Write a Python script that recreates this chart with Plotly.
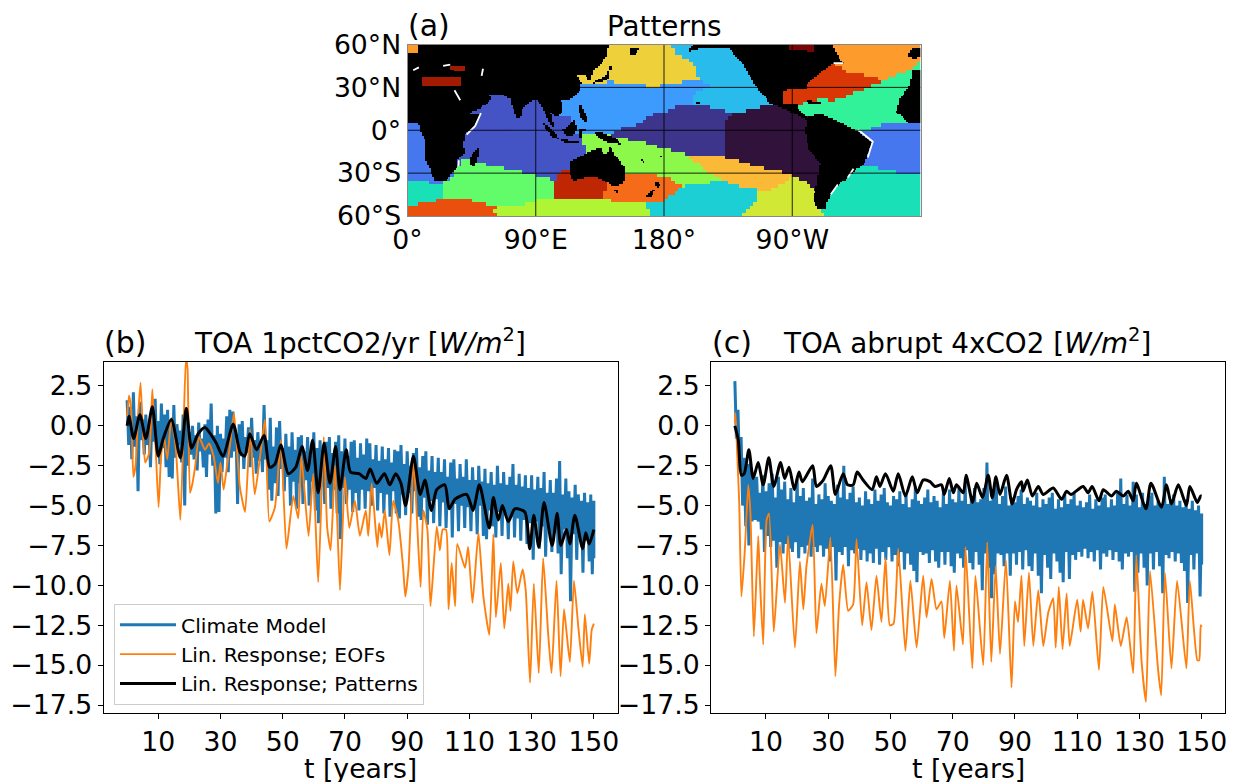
import plotly.graph_objects as go

# ---------------- time series: panel (b) ----------------
b_model_hi = [1.6,1.2,2.1,0.6,1.5,0.4,0.7,-0.1,1.0,1.7,0.3,1.4,0.7,1.0,0.2,1.3,0.1,-0.3,0.7,1.0,-0.4,
 0.0,-0.6,0.2,-0.8,0.1,0.4,1.4,-0.6,0.0,-0.5,-0.8,0.6,1.0,0.9,-0.5,0.1,0.3,-0.7,-0.1,0.5,
 -0.9,-0.4,-1.0,1.3,-0.9,0.5,-1.3,-0.1,0.3,-1.4,-0.5,-1.3,-0.4,-1.5,-0.7,-0.6,-1.6,-0.7,-1.7,-0.4,
 -1.4,-0.9,-1.8,-1.0,-0.7,-1.7,-1.0,-0.6,-1.6,-0.8,-1.9,-1.0,-0.9,-2.0,-1.1,-1.8,-0.8,-1.1,-2.1,-1.2,
 -2.2,-1.3,-2.1,-1.4,-2.3,-1.5,-1.6,-1.2,-2.4,-1.6,-2.5,-1.7,-1.4,-2.6,-1.9,-1.6,-2.8,-1.9,-2.9,-2.0,
 -2.9,-2.1,-3.2,-2.3,-2.1,-3.3,-2.4,-3.2,-2.1,-3.4,-2.6,-3.4,-2.5,-3.5,-2.7,-3.6,-2.9,-3.7,-2.5,-3.6,
 -2.9,-3.7,-3.2,-2.4,-3.7,-3.0,-3.8,-3.1,-3.9,-3.1,-4.0,-3.2,-3.9,-2.9,-4.2,-3.4,-4.2,-3.3,-2.2,-4.3,
 -3.3,-4.1,-4.5,-3.7,-4.3,-4.7,-4.2,-4.8,-4.3,-4.7]
b_model_lo = [-1.2,-2.1,-1.3,-4.1,-0.9,-1.8,-1.2,-2.6,-1.0,-1.8,-2.4,-1.4,-2.6,-3.2,-3.3,-2.0,-1.2,-2.3,-5.0,-2.5,-1.8,
 -2.1,-2.8,-1.6,-2.6,-3.2,-1.8,-2.5,-5.5,-5.4,-2.9,-2.0,-2.9,-2.0,-1.6,-4.9,-1.9,-2.7,-1.7,-2.6,-2.0,
 -3.0,-2.2,-2.9,-2.1,-4.0,-4.7,-3.6,-4.4,-2.7,-4.1,-3.2,-5.0,-3.5,-5.2,-3.6,-4.9,-3.4,-5.0,-3.5,-5.3,
 -6.1,-3.8,-4.9,-3.9,-5.2,-4.0,-5.5,-7.1,-3.9,-4.9,-4.0,-5.4,-4.2,-5.3,-4.0,-5.2,-4.1,-5.0,-3.9,-5.3,
 -4.2,-5.5,-4.3,-5.7,-4.1,-5.5,-5.8,-4.3,-5.6,-4.2,-5.5,-4.1,-5.7,-5.9,-4.5,-6.2,-4.7,-6.1,-4.6,-6.3,
 -4.8,-6.4,-5.0,-7.0,-4.9,-6.6,-5.0,-6.4,-5.1,-6.6,-5.2,-6.8,-5.0,-6.9,-7.1,-5.3,-6.3,-7.0,-5.4,-6.9,
 -5.5,-7.1,-5.7,-7.0,-5.8,-7.2,-5.9,-7.4,-6.1,-8.4,-6.0,-7.7,-6.3,-8.2,-6.4,-7.9,-6.5,-8.0,-9.3,-6.5,
 -8.3,-11.0,-6.8,-8.4,-7.0,-9.2,-7.2,-8.5,-9.3,-8.3]
b_eof_t = [0,0.6,1.3,2,2.7,3.5,4.3,5.1,5.8,7.1,8.1,9.1,10.1,10.9,11.8,12.9,14.2,15.6,17.1,18,18.9,19.4,20.2,21,21.9,23.1,25,26.3,27.8,29.2,30,31,32.1,33,34.3,35.3,36.2,37.9,39.5,41,42.6,44.3,45.7,47.5,49.4,51.2,53.4,55,56,58.3,59.8,61.4,63.2,64.3,65.4,66.8,68.4,70,71.4,73.2,74.8,76.7,77.5,78.6,80.4,81,81.8,82.8,84.3,85.5,87.1,88.7,89.4,90.4,92.1,94.3,95.2,96.5,97.5,99.5,100.5,101.4,102.5,103.3,104.3,105.4,106.1,108.6,109.6,111,112.9,114.5,116.4,117.7,118.5,120.1,121.2,122.5,123.2,124.1,125.4,127.1,128.1,129.5,130.7,132.3,133.7,135.3,136.4,138,139.3,140.4,141.2,142.3,143.6,145,146.4,147.1,148.5,149.3,150]
b_eof_v = [0.6,1.9,1.0,-3.2,-2.5,0.6,2.7,-0.5,-2.3,-1.7,2.3,-1.1,-5.1,-1.9,-0.6,-2.1,0.5,-1.3,-5.9,-1.1,4.3,3.6,-4.2,-3.6,-2.5,-0.7,-1.5,-1.1,-1.9,-3.6,-2.3,-4.0,-2.5,-1.3,0.8,-1.5,-3.8,-5.4,-0.2,-4.3,-2.1,0.4,-6.0,-5.1,-0.9,-7.7,-4.4,-5.8,-1.9,-6.9,-3.0,-9.8,-0.7,-6.4,-7.8,-2.5,-10.3,-3.2,-6.4,-4.7,-6.9,-5.3,-6.9,-3.6,-7.6,-6.1,-7.0,-5.3,-8.1,-4.7,-5.9,-8.9,-10.7,-9.0,-2.2,-10.1,-5.3,-6.5,-11.3,-6.3,-7.8,-6.5,-6.5,-11.5,-8.6,-11.3,-7.4,-8.9,-7.6,-11.1,-6.7,-10.7,-13.1,-6.8,-12.0,-8.6,-12.7,-9.9,-11.6,-8.5,-10.5,-9.0,-10.3,-16.1,-9.9,-15.5,-8.3,-13.0,-15.5,-9.7,-15.7,-11.5,-12.9,-14.8,-9.7,-12.6,-15.1,-11.8,-14.9,-12.8,-12.4]
b_pat_t = [0,0.6,2.1,4.1,6,8.1,10,11.6,14.2,17.1,19,20.7,22.8,25,27.1,28.7,30.8,34.1,36.4,37.8,39.4,41.6,44,45.8,47.5,49.4,51.8,54.2,56.2,58,59.6,61.4,63.3,65.2,67,68.4,70.4,71.8,74.5,76.7,78.1,80.2,82.7,84.4,86.3,88,89.5,92,94.2,95.7,97.8,99.5,102.1,103.5,105.4,109.1,111.2,113.2,116.4,117.7,119.3,120.6,122.5,124.6,127.8,129.4,130.7,132.3,134,136.6,138.2,139.4,141.2,142.3,143.9,146.4,147.4,148.5,150]
b_pat_v = [0.0,0.6,-0.8,0.7,-0.8,1.2,-1.9,-0.8,0.4,-2.0,1.1,-1.4,-0.5,-0.1,-0.6,-1.1,-1.9,0.1,-1.7,-1.9,-0.5,-1.5,-0.6,-2.6,-2.4,-1.2,-3.0,-2.6,-1.3,-2.8,-0.9,-4.2,-1.1,-3.6,-1.3,-4.0,-1.5,-2.9,-3.0,-3.3,-2.7,-3.6,-3.0,-3.7,-3.0,-3.6,-5.0,-1.9,-4.3,-3.4,-5.3,-4.0,-3.7,-5.2,-4.6,-4.3,-5.3,-3.7,-6.4,-4.5,-5.9,-5.0,-6.0,-5.2,-5.4,-7.7,-5.6,-7.6,-4.8,-7.5,-5.5,-7.5,-6.5,-7.4,-5.6,-7.7,-6.7,-7.4,-6.5]

# ---------------- time series: panel (c) ----------------
c_model_hi = [2.8,1.0,-0.7,-2.0,-2.4,-2.3,-3.3,-3.2,-4.2,-3.1,-4.1,-3.6,-3.0,-4.5,-3.2,-4.0,-3.5,-4.6,-3.9,-4.8,-3.3,
 -4.4,-3.9,-4.7,-4.5,-3.3,-4.9,-4.3,-4.6,-3.6,-4.4,-4.7,-4.9,-3.7,-4.5,-2.5,-4.6,-4.2,-3.8,-4.8,-4.5,
 -5.0,-4.1,-4.6,-4.9,-4.0,-4.7,-4.3,-3.9,-4.8,-5.0,-4.4,-4.6,-4.1,-4.9,-4.3,-5.1,-4.6,-3.8,-4.7,-4.9,
 -4.5,-4.0,-4.8,-4.4,-4.7,-5.1,-4.2,-4.9,-4.0,-4.6,-4.8,-3.9,-4.7,-3.6,-4.9,-4.4,-3.9,-4.8,-4.6,-3.9,
 -2.3,-4.7,-4.0,-3.7,-4.9,-4.4,-3.8,-5.0,-4.5,-4.8,-4.4,-4.0,-4.9,-4.5,-4.7,-5.0,-4.2,-5.1,-4.6,-4.9,
 -4.5,-4.2,-5.2,-4.6,-5.1,-4.3,-4.9,-4.6,-4.2,-5.0,-4.7,-5.1,-4.8,-4.3,-5.2,-4.6,-5.0,-4.5,-4.3,-5.1,
 -4.6,-5.0,-4.2,-3.3,-4.9,-4.3,-5.0,-3.5,-4.3,-5.1,-4.2,-4.9,-4.4,-4.2,-5.0,-4.7,-4.9,-3.2,-4.9,-4.6,
 -4.3,-5.0,-4.7,-5.1,-4.6,-5.2,-4.7,-5.3,-5.0,-5.5]
c_model_lo = [-0.8,-2.8,-5.0,-6.3,-7.5,-6.0,-5.9,-6.0,-6.5,-7.9,-6.9,-7.6,-7.2,-8.9,-7.3,-8.0,-7.4,-7.7,-7.9,-7.3,-8.3,
 -7.6,-8.0,-7.5,-8.2,-7.6,-7.9,-7.5,-8.2,-7.7,-8.5,-7.6,-9.7,-7.9,-8.1,-7.6,-8.8,-7.8,-8.0,-7.7,-8.4,
 -7.8,-8.5,-8.0,-8.6,-7.7,-8.7,-7.9,-8.4,-7.6,-8.5,-8.1,-8.8,-7.9,-9.0,-8.0,-8.7,-9.1,-9.8,-7.9,-8.1,
 -8.0,-8.6,-7.8,-8.5,-8.9,-7.9,-8.7,-7.9,-8.8,-9.2,-8.0,-8.3,-8.9,-7.8,-8.6,-9.0,-7.9,-8.7,-10.3,-8.0,
 -8.9,-10.8,-9.3,-8.0,-8.1,-8.8,-8.0,-9.4,-8.0,-8.7,-7.9,-9.0,-7.8,-8.8,-9.1,-8.0,-9.4,-10.5,-8.1,-8.9,
 -9.6,-8.0,-8.5,-9.2,-9.8,-7.9,-9.6,-8.1,-8.4,-7.9,-8.2,-7.7,-8.3,-7.9,-8.5,-7.8,-9.0,-8.0,-8.2,-7.8,
 -8.4,-7.9,-8.5,-9.0,-8.0,-8.2,-7.9,-10.4,-9.2,-8.0,-8.9,-10.0,-8.0,-9.0,-7.9,-8.8,-10.5,-8.1,-8.3,-7.9,
 -8.5,-8.0,-8.6,-9.1,-11.1,-8.1,-9.0,-8.0,-10.7,-8.7]
c_eof_t = [0,0.2,0.7,1.4,2.1,3.2,4.3,5,6.1,7.5,8,9.1,10.2,11,12.5,14.5,16.1,17.1,19.3,20.9,22,23,25,26.2,27.8,28.9,30.7,32.3,33.5,34.8,36.4,38,39.1,40.9,42.3,43.9,45.5,47.1,48.4,49.8,51,52.5,54.8,56.4,58.4,60.5,61.6,63.2,64.8,66.4,67.3,69.1,70.4,71.2,73.3,74.1,76.3,77.3,79.8,81.1,82.4,83.8,85.2,87.1,88.9,90,91,92.1,93,94.5,95.9,97.5,99.1,100.7,102.3,103.1,104.1,105.3,106.6,107.6,110,111.1,111.9,113.5,114.9,117,118.4,121.3,122.1,124,125.9,128,129,130.7,132.1,133.4,136,137,138.2,140.3,142.1,145.1,146.2,148.6,149.2,149.7,150]
c_eof_v = [0.2,0.8,-1.5,-4.8,-10.7,-7.8,-3.7,-5.5,-13.2,-6.9,-9.4,-13.7,-5.9,-5.5,-12.9,-7.4,-11.1,-6.9,-13.9,-8.5,-11.5,-8.8,-6.2,-13.0,-9.9,-11.3,-7.0,-15.7,-11.2,-8.7,-11.6,-11.2,-7.1,-12.5,-9.8,-12.8,-9.4,-12.3,-8.3,-12.5,-12.4,-7.7,-14.1,-9.7,-13.9,-9.4,-12.0,-9.6,-11.5,-11.0,-13.3,-9.7,-14.1,-10.0,-13.7,-7.6,-15.2,-9.4,-15.0,-7.3,-14.8,-8.8,-14.3,-8.4,-16.4,-11.0,-12.3,-9.4,-13.8,-9.2,-13.8,-10.3,-13.8,-11.7,-10.8,-13.9,-10.1,-14.0,-10.5,-13.8,-10.9,-12.9,-10.9,-12.7,-10.4,-15.3,-10.1,-13.5,-11.2,-13.8,-12.0,-15.5,-8.1,-14.8,-17.3,-9.1,-15.3,-16.9,-9.2,-15.2,-9.7,-15.2,-9.7,-14.7,-14.7,-12.5,-12.6]
c_pat_t = [0,1.1,2.1,3,4.5,5.9,7.5,9.1,10.9,12.5,14.7,16,17.4,19.1,20.6,21.7,25,26.2,28.4,30.8,32.3,34.8,36.2,38,39.3,41.2,44.1,45.5,46.6,48.4,50.9,52.5,54.8,57,58.6,60.5,62.7,64.3,66.4,67.3,68.9,70.2,71.2,73.4,74.3,76.4,77.7,79.6,81.4,82.7,83.9,85.2,87.3,89.1,90.5,92.1,92.6,94,95.6,97.5,99.1,102.3,105,106.6,108,111.9,113.5,114.8,117,118.4,121,122.6,124.8,126.4,128,129,132.1,133.7,137.1,138.7,140.3,142.5,145.1,146.2,148.6,149.7,150]
c_pat_v = [0.0,-0.9,-3.1,-3.0,-1.5,-3.3,-2.3,-3.7,-2.0,-3.8,-2.3,-3.3,-2.6,-4.0,-2.9,-3.5,-2.5,-3.8,-3.4,-2.5,-4.3,-3.0,-3.7,-3.7,-2.9,-3.4,-4.0,-3.2,-3.8,-3.0,-4.1,-3.0,-4.4,-3.2,-4.2,-3.4,-3.5,-3.8,-3.7,-4.3,-3.3,-4.2,-3.7,-4.2,-3.1,-4.8,-3.6,-4.5,-3.1,-4.5,-3.2,-4.3,-3.1,-4.9,-4.0,-3.5,-4.1,-3.4,-4.4,-3.8,-4.3,-3.9,-4.6,-4.1,-4.3,-3.8,-4.2,-3.8,-4.7,-4.0,-4.4,-4.1,-4.4,-4.1,-4.7,-3.6,-5.2,-3.6,-5.1,-3.7,-4.9,-3.7,-5.0,-3.8,-4.8,-4.4,-4.4]

year_ticks = [10,30,50,70,90,110,130,150]
value_ticks = [2.5,0,-2.5,-5,-7.5,-10,-12.5,-15,-17.5]
series_names = ["Climate Model","Lin. Response; EOFs","Lin. Response; Patterns"]

# ---------------- map: pattern regions (lon, lat) ----------------
region_colors = ["#ea4f0d","#b0f533","#62fc6b","#1ae0b8","#1ae0b8","#4777ef","#4454c4","#3e9bfe","#28bbec",
 "#3d358b","#30123b","#fbb938","#8cf94a","#f66b19","#bf2604","#1ccfd5","#d1e834","#edd03a",
 "#fe9b2d","#d93806","#31f299","#4777ef","#4454c4","#fe9b2d","#d93806","#a31a02","#a31a02","#7a0403"]
region_polys = [
 [(0,-60),(0,-53.5),(8.8,-51),(25,-47.6),(39,-47),(51,-50),(60,-54),(64.5,-56),(64.5,-60)],
 [(60,-55),(65,-53.5),(75.4,-52.8),(85,-51),(91.8,-47),(137.4,-47),(146.8,-50),(156,-49),(167.8,-52.3),(170,-60),(65,-60),(62,-58)],
 [(34.5,-29),(39,-18.5),(51,-23),(65,-25.5),(82.5,-29),(89.5,-31),(97.7,-32.5),(102.3,-43),(102,-47),(91.8,-47),(85,-51),(75.4,-52.8),(65,-53.5),(51,-50),(39,-47),(25,-47.6),(26.3,-40.6),(22.8,-37),(30,-33.6)],
 [(0,-36),(11,-35.5),(20.5,-37),(26.3,-40.6),(25,-47.6),(8.8,-51),(0,-53.5)],
 [(314,-24.3),(327,-25.5),(336.2,-27.8),(352.6,-30),(360,-31.3),(360,-53.5),(352.6,-54.6),(347,-60),(289.5,-60),(291.8,-47.6),(298.8,-43),(308,-33.6)],
 [(317.5,-1),(329,2.5),(336.2,4.8),(345.6,4.8),(360,3.7),(360,-31.3),(352.6,-30),(336.2,-27.8),(327,-25.5),(314,-24.3),(310,-15)],
 [(35,-29),(39,-18.5),(51,-23),(65,-25.5),(82.5,-29),(89.5,-31),(97.7,-32.5),(104.7,-34.5),(112,-28),(116,-23),(125,-13),(120,-5),(105,-5),(100,5),(95,22),(60,30),(45,15),(35,0)],
 [(122,30.5),(142,34),(184,33),(205,35),(212,31.6),(201,25),(200,19),(187.7,17),(184,14),(172.5,12),(163,4.8),(147,0),(128,0),(123,0),(107,9),(107,22),(120,30)],
 [(185,60),(189,52.6),(200.6,46.8),(204.8,35),(212.3,31.6),(200.6,25.8),(200.6,18.8),(219.3,14.2),(231,11.8),(247.4,16.5),(255.6,16.5),(250,30),(238,43),(230,60)],
 [(147,0),(163,4.8),(172.5,12),(184,14),(187.7,17),(203,18.8),(219,14.5),(230,12),(225,9.5),(222.3,4.8),(222.3,-18.5),(198,-17.3),(186.6,-13.8),(177.2,-12.6),(170,-9),(151.5,-5.6),(145,-4)],
 [(230,12),(247.4,16.5),(255.6,16.5),(269.6,13),(282.5,7),(295,5),(295,-43),(287,-43),(280,-36),(264.9,-29),(247.4,-25.5),(224,-19.6),(222.3,-18.5),(222.3,4.8),(225,9.5)],
 [(197,-17.3),(222,-18.5),(247.4,-26),(265,-29.4),(269.6,-31),(263.7,-37),(250.9,-43),(238,-37),(214.6,-31.3),(203,-23)],
 [(123,-8),(128,-5),(151.5,-5.6),(170,-9),(177.2,-12.6),(186.6,-13.8),(197,-17.3),(203,-23),(214.6,-31.3),(222,-36),(214.6,-36),(203,-37),(192.4,-39.5),(186.6,-35),(180.7,-32.5),(164.3,-29),(150,-30),(130,-25),(125,-13)],
 [(137.4,-47.6),(138.6,-42),(153.8,-33.6),(164.3,-29),(181.8,-32.5),(186.6,-35),(192.4,-39.5),(179.5,-49),(156,-49),(146.8,-50)],
 [(102.3,-36),(109.4,-25.5),(114,-29),(125,-30),(138.6,-42),(137.4,-47),(102,-47)],
 [(167.8,-52.3),(179.5,-49),(192.4,-39.5),(203,-37),(214.6,-36),(227.5,-41),(238,-42),(245,-43),(243.9,-50),(234.5,-60),(170,-60)],
 [(245,-43),(250.9,-43),(263.7,-37),(269.6,-32),(280,-37),(287,-43),(291.8,-59.5),(291.8,-60),(234.5,-60),(243.9,-50)],
 [(122,33),(142,34),(175,30.5),(184,33),(204.8,35),(200.6,46.8),(189,52.6),(185,60),(140,60),(125,45)],
 [(298.8,58.5),(298,60),(360,60),(360,58.5),(351.5,42),(333.9,35),(319.9,38.7),(308,41),(303.5,44.5)],
 [(280,31.6),(287,38.7),(294,43),(303.5,44.5),(308,41),(319.9,38.7),(333.9,35),(322,29.3),(298.8,21),(280,23.5)],
 [(277.8,16.5),(298.8,21),(322,29.3),(333.9,35),(351.5,42),(360,42),(360,3.7),(345.6,4.8),(336.2,4.8),(313,-1),(298.8,10.7),(277.8,9.5)],
 [(0,5),(12,5),(30,-10),(30,-33),(20.5,-37),(11,-35.5),(0,-36)],
 [(104,9),(116,9),(116,0),(104,0)],
 [(0,54),(8,54),(8,60),(0,60)],
 [(263.7,19),(264.2,28),(280,29),(280,19)],
 [(10,38),(25,38),(38,37),(38,31),(10,31)],
 [(30,42),(40,41.5),(40,44.5),(30,45)],
 [(267,60),(267,56),(285,55.5),(285,60)],
]
# regions at these positions cut through the land mask (inland seas)
inland_seas = [25, 26, 27, 24]

# white coastal fringe (lon, lat runs)
fringe_runs = [
 [(51.5,12),(47.5,3),(41.5,-3)],
 [(36,-21),(35.8,-25)],
 [(316,0.5),(326.5,-8),(323,-19)],
 [(313,-27),(309,-33)],
 [(33,28),(37,21)],
 [(299,47),(306,47)],
 [(4,42),(8,44)],
 [(25,45),(30,46)],
 [(52,38),(53,43)],
 [(297,-45),(302,-38)],
]

# land (lon, lat)
land_polys = [
 [(0,5.5),(5,5.5),(9,4),(9,-1),(13,-8),(12,-18),(17,-30),(19,-35),(27,-34.5),(32,-29),(35,-25),(35,-20),(40,-16),(39,-10),(40,-3),(47,3),(51,11),(43,12),(52,16),(59,22),(57,25),(67,25),(72,22),(73,18),(77,8),(80,10),(80,14),(86,20),(91,22),(94,17),(98,9),(100,5),(103,2),(100,13),(105,9),(109,13),(108,21),(115,22),(121,28),(122,33),(119,38),(122,39),(126,38),(126,34.5),(129,36),(130,42),(135,45),(140,52),(141,60),(8,60),(8,54),(0,54)],
 [(44,-24),(44.5,-17),(49.5,-12.5),(50.5,-16),(47,-25)],
 [(95,5.5),(99,3),(104,-2),(106,-6),(102,-5),(97,1)],
 [(106,-6),(114,-7),(122,-8.5),(120,-9),(110,-8.5)],
 [(109,1),(113,3),(117,7),(119,1),(116,-4),(110,-3)],
 [(120,1),(125,1),(122,-1),(123,-5),(120,-5)],
 [(120,18),(122,18),(124,13),(127,7),(125,6),(122,8),(120,14)],
 [(131,-1),(138,-2),(145,-5),(151,-10),(146,-9),(139,-8),(133,-4)],
 [(114,-22),(122,-18),(129,-14),(136,-12),(136,-15),(140,-17),(142,-11),(146,-18),(153,-26),(153,-33),(150,-38),(144,-39),(138,-35),(131,-32),(124,-33),(116,-35),(114,-30)],
 [(145,-41),(148,-41),(148,-43.5),(146,-43.5)],
 [(167,-46.5),(172,-41),(174,-42),(170,-46.8)],
 [(173,-35),(178,-38),(175,-41),(174,-38)],
 [(130,33),(136,34),(141,36),(141,42),(145,44),(142,45),(139,38),(132,35)],
 [(156,52),(160,53),(163,58),(156,58)],
 [(197,55),(200,60),(298,60),(299,58),(303,50),(307,47),(297,45.7),(288,39),(280,32),(280,26),(278,29),(264,28),(263.7,19),(273,20),(274,15),(280,9),(289.5,11.8),(303.5,6),(315,0),(325.7,-8),(321,-22),(310.5,-31.3),(300,-40.6),(295.3,-47.6),(293,-55),(288,-55),(284.8,-47.6),(287,-38.3),(289.5,-23),(281.3,-12.6),(279,-1),(280,7.5),(269.6,13),(254.4,18.8),(243.9,31.7),(235.6,45.7),(226,57),(207.6,58)],
 [(274,22),(282,21),(292,19),(285,18.5),(278,20)],
 [(360,43),(354,43),(352.6,31.7),(345.6,22),(342.8,13),(352.6,5),(360,5)],
 [(351,52),(355,50),(360,51),(360,58),(354,58)],
 [(203,20),(205,20),(205,18.5),(203,18.5)],
 [(163,-20),(166,-21),(167,-23),(165,-22)],
 [(177,-17.5),(179,-17.5),(179,-19),(177,-19)],
]

map_lon_ticks = [0,90,180,270]
map_lon_labels = ["0°","90°E","180°","90°W"]
map_lat_ticks = [60,30,0,-30,-60]
map_lat_labels = ["60°N","30°N","0°","30°S","60°S"]

# ---------------- figure ----------------
W, H = 1238, 782
FONT = "DejaVu Sans"
SZ = 26.7
BLUE, ORANGE = "#1f77b4", "#ff7f0e"
px = lambda a, b: [a / W, b / W]
py = lambda top, bot: [1 - bot / H, 1 - top / H]

def zigzag(hi, lo):
    xs, ys = [], []
    for k, (h, l) in enumerate(zip(hi, lo)):
        xs += [k, min(k + 0.5, 150)]
        ys += [h, l]
    return xs, ys

def inside(lon, lat, pts):
    hit = False
    n = len(pts)
    for i in range(n):
        x1, y1 = pts[i]
        x2, y2 = pts[(i + 1) % n]
        if (y1 > lat) != (y2 > lat) and lon < x1 + (lat - y1) * (x2 - x1) / (y2 - y1):
            hit = not hit
    return hit

fig = go.Figure()
panels = [("x", "y", b_model_hi, b_model_lo, b_eof_t, b_eof_v, b_pat_t, b_pat_v, True),
          ("x2", "y2", c_model_hi, c_model_lo, c_eof_t, c_eof_v, c_pat_t, c_pat_v, False)]
for xa, ya, hi, lo, et, ev, pt, pv, leg in panels:
    zx, zy = zigzag(hi, lo)
    fig.add_trace(go.Scatter(x=zx, y=zy, xaxis=xa, yaxis=ya, mode="lines", name=series_names[0],
                             showlegend=leg, line=dict(color=BLUE, width=3)))
    fig.add_trace(go.Scatter(x=et, y=ev, xaxis=xa, yaxis=ya, mode="lines", name=series_names[1],
                             showlegend=leg, line=dict(color=ORANGE, width=1.9, shape="spline", smoothing=0.5)))
    fig.add_trace(go.Scatter(x=pt, y=pv, xaxis=xa, yaxis=ya, mode="lines", name=series_names[2],
                             showlegend=leg, line=dict(color="black", width=3, shape="spline", smoothing=0.7)))

# regions rasterised on the map's own grid
n_reg = len(region_colors)
reg_lon = [1.25 + 2.5 * i for i in range(144)]
reg_lat = [-58.75 + 2.5 * j for j in range(48)]
reg_z = []
for la in reg_lat:
    row = []
    for lo in reg_lon:
        v = None
        for idx, pts in enumerate(region_polys):
            if inside(lo, la, pts):
                v = idx
        row.append(v)
    reg_z.append(row)
# ocean cells no outline reached take the neighbouring region
while any(v is None for row in reg_z for v in row):
    prev = [row[:] for row in reg_z]
    for j, row in enumerate(prev):
        for i, v in enumerate(row):
            if v is None:
                for dj, di in ((0, -1), (0, 1), (-1, 0), (1, 0)):
                    jj, ii = j + dj, i + di
                    if 0 <= jj < len(prev) and 0 <= ii < len(row) and prev[jj][ii] is not None:
                        reg_z[j][i] = prev[jj][ii]
                        break
scale = []
for i, c in enumerate(region_colors):
    scale += [[i / n_reg, c], [(i + 1) / n_reg, c]]
fig.add_trace(go.Heatmap(x=reg_lon, y=reg_lat, z=reg_z, xaxis="x3", yaxis="y3", zmin=-0.5, zmax=n_reg - 0.5,
                         colorscale=scale, showscale=False, hoverinfo="skip", zsmooth=False))

for run in fringe_runs:
    fig.add_trace(go.Scatter(x=[p[0] for p in run], y=[p[1] for p in run], xaxis="x3", yaxis="y3", mode="lines",
                             line=dict(color="white", width=1.8), hoverinfo="skip", showlegend=False))

land_lon = [0.625 + 1.25 * i for i in range(288)]
land_lat = [-59.375 + 1.25 * j for j in range(96)]
land_z = []
for la in land_lat:
    row = []
    for lo in land_lon:
        on = any(inside(lo, la, pts) for pts in land_polys)
        if on and any(inside(lo, la, region_polys[k]) for k in inland_seas):
            on = False
        row.append(1 if on else None)
    land_z.append(row)
fig.add_trace(go.Heatmap(x=land_lon, y=land_lat, z=land_z, xaxis="x3", yaxis="y3", zmin=0, zmax=1,
                         colorscale=[[0, "black"], [1, "black"]], showscale=False, hoverinfo="skip", zsmooth=False))

for lon in map_lon_ticks[1:]:
    fig.add_trace(go.Scatter(x=[lon, lon], y=[-60, 60], xaxis="x3", yaxis="y3", mode="lines",
                             line=dict(color="black", width=1), opacity=0.85, hoverinfo="skip", showlegend=False))
for lat in map_lat_ticks[1:-1]:
    fig.add_trace(go.Scatter(x=[0, 360], y=[lat, lat], xaxis="x3", yaxis="y3", mode="lines",
                             line=dict(color="black", width=1), opacity=0.85, hoverinfo="skip", showlegend=False))

ts_x = dict(tickmode="array", tickvals=year_ticks, ticks="outside", ticklen=5, tickwidth=1, tickcolor="black",
            showgrid=False, zeroline=False, showline=True, mirror=True, linecolor="black", linewidth=1,
            automargin=False, tickfont=dict(size=SZ, family=FONT, color="black"))
ts_y = dict(tickmode="array", tickvals=value_ticks, tickformat=".1f", range=[-18, 4], ticks="outside", ticklen=5,
            tickwidth=1, tickcolor="black", showgrid=False, zeroline=False, showline=True, mirror=True,
            linecolor="black", linewidth=1, automargin=False, tickfont=dict(size=SZ, family=FONT, color="black"))

fig.update_layout(
    width=W, height=H, margin=dict(l=0, r=0, t=0, b=0, autoexpand=False), paper_bgcolor="white", plot_bgcolor="white",
    font=dict(family=FONT, color="black"),
    xaxis=dict(ts_x, domain=px(103.5, 617.5), range=[-7.6, 157.6], anchor="y"),
    yaxis=dict(ts_y, domain=py(362, 713), anchor="x"),
    xaxis2=dict(ts_x, domain=px(711, 1225), range=[-7.67, 157.5], anchor="y2"),
    yaxis2=dict(ts_y, domain=py(362, 713), anchor="x2"),
    xaxis3=dict(domain=px(407.5, 920.5), range=[0, 360], anchor="y3", tickmode="array", tickvals=map_lon_ticks,
                ticktext=map_lon_labels, showgrid=False, zeroline=False, showline=True, mirror=True, automargin=False,
                linecolor="#888888", linewidth=1, ticks="", tickfont=dict(size=SZ, family=FONT, color="black")),
    yaxis3=dict(domain=py(44.5, 216), range=[-60, 60], anchor="x3", tickmode="array", tickvals=map_lat_ticks,
                ticktext=map_lat_labels, showgrid=False, zeroline=False, showline=True, mirror=True, automargin=False,
                linecolor="#888888", linewidth=1, ticks="", tickfont=dict(size=SZ, family=FONT, color="black")),
    legend=dict(x=114 / W, y=1 - 604 / H, xanchor="left", yanchor="top", bgcolor="rgba(255,255,255,0.85)",
                bordercolor="#cccccc", borderwidth=1, font=dict(size=20.3, family=FONT, color="black"), itemwidth=56),
)

def label(text, x, y, anchor="center", size=27.8):
    fig.add_annotation(text=text, x=x / W, y=1 - y / H, xref="paper", yref="paper", xanchor=anchor, yanchor="middle",
                       showarrow=False, font=dict(size=size, family=FONT, color="black"))

label("(a)", 406, 25, "left", 30)
label("Patterns", 664, 27)
label("(b)", 102, 342, "left", 30)
label("TOA 1pctCO2/yr [<i>W/m</i><sup>2</sup>]", 360, 341)
label("(c)", 710, 342, "left", 30)
label("TOA abrupt 4xCO2 [<i>W/m</i><sup>2</sup>]", 967, 341)
label("t [years]", 360, 768, "center", 26.7)
label("t [years]", 968, 768, "center", 26.7)

fig.write_html("out.html", config={"displayModeBar": False},
               post_script="document.body.style.margin='0';document.documentElement.style.overflow='hidden';")
